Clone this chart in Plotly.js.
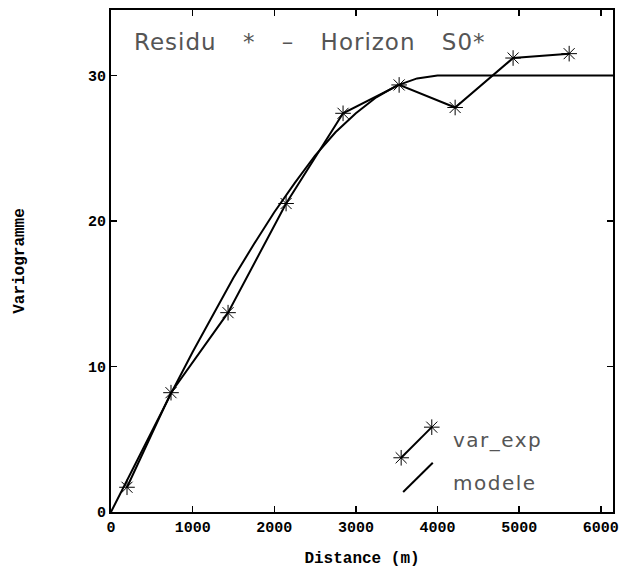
<!DOCTYPE html>
<html>
<head>
<meta charset="utf-8">
<script src="https://cdn.plot.ly/plotly-3.0.1.min.js"></script>
<style>html,body{margin:0;padding:0;background:#fff;}</style>
</head>
<body>
<div id="chart" style="width:619px;height:568px;"></div>
<script>
var expDist = [196, 735, 1434, 2145, 2843, 3530, 4216, 4926, 5613];
var expGamma = [1.7, 8.2, 13.7, 21.2, 27.4, 29.35, 27.8, 31.2, 31.5];

// Fitted model curve
var modelDist = [0, 250, 500, 750, 1000, 1250, 1500, 1750, 2000, 2250, 2500, 2750, 3000, 3250, 3500, 3750, 4000, 6150];
var modelGamma = [0, 2.8, 5.6, 8.3, 11.0, 13.6, 16.1, 18.4, 20.6, 22.6, 24.5, 26.1, 27.4, 28.5, 29.3, 29.8, 30, 30];

var xTicks = [0, 1000, 2000, 3000, 4000, 5000, 6000];
var yTicks = [0, 10, 20, 30];

var titleText = "Residu * \u2013 Horizon S0*";
var legendLabels = ["var_exp", "modele"];
var xTitle = "Distance (m)";
var yTitle = "Variogramme";

// legend sample positions in the overlay [0,1] space
var legExpX = [0.578, 0.639], legExpY = [0.108, 0.169];
var legModX = [0.582, 0.641], legModY = [0.040, 0.098];

var tickFont = {family: "Liberation Mono", size: 15, color: "#000", weight: "bold"};
var titleFont = {family: "Liberation Mono", size: 16, color: "#000", weight: "bold"};
var thinFont = function (s) { return {family: "DejaVu Sans", size: s, color: "#555"}; };

var traces = [
  {x: modelDist, y: modelGamma, mode: "lines", line: {color: "#000", width: 2}, hoverinfo: "skip"},
  {x: expDist, y: expGamma, mode: "lines+markers", line: {color: "#000", width: 2},
   marker: {symbol: "asterisk-open", size: 13, color: "#000", line: {color: "#000", width: 1}}},
  {x: legExpX, y: legExpY, xaxis: "x2", yaxis: "y2", mode: "lines+markers", line: {color: "#000", width: 2},
   marker: {symbol: "asterisk-open", size: 13, color: "#000", line: {color: "#000", width: 1}}},
  {x: legModX, y: legModY, xaxis: "x2", yaxis: "y2", mode: "lines", line: {color: "#000", width: 2}}
];

var layout = {
  width: 619, height: 568,
  margin: {l: 111, r: 6, t: 10, b: 56},
  paper_bgcolor: "#fff", plot_bgcolor: "#fff",
  showlegend: false,
  xaxis: {
    range: [0, 6150], tickvals: xTicks, ticktext: xTicks.map(String),
    ticks: "inside", ticklen: 6, tickwidth: 1.5, tickcolor: "#000",
    showline: true, linewidth: 2, linecolor: "#000", mirror: "ticks",
    showgrid: false, zeroline: false, tickfont: tickFont,
    title: {text: xTitle, font: titleFont, standoff: 17}
  },
  yaxis: {
    range: [0, 34.5], tickvals: yTicks, ticktext: yTicks.map(String),
    ticks: "inside", ticklen: 6, tickwidth: 1.5, tickcolor: "#000",
    showline: true, linewidth: 2, linecolor: "#000", mirror: "ticks",
    showgrid: false, zeroline: false, tickfont: tickFont,
    title: {text: yTitle, font: titleFont, standoff: 59}
  },
  xaxis2: {range: [0, 1], overlaying: "x", visible: false, fixedrange: true},
  yaxis2: {range: [0, 1], overlaying: "y", visible: false, fixedrange: true},
  annotations: [
    {xref: "paper", yref: "paper", x: 0.042, y: 0.936, xanchor: "left", yanchor: "middle",
     text: '<span style="letter-spacing:1px;word-spacing:18px">' + titleText + '</span>',
     showarrow: false, font: thinFont(23)},
    {xref: "paper", yref: "paper", x: 0.677, y: 0.143, xanchor: "left", yanchor: "middle",
     text: '<span style="letter-spacing:1.5px">' + legendLabels[0] + '</span>', showarrow: false, font: thinFont(20)},
    {xref: "paper", yref: "paper", x: 0.677, y: 0.058, xanchor: "left", yanchor: "middle",
     text: '<span style="letter-spacing:1.5px">' + legendLabels[1] + '</span>', showarrow: false, font: thinFont(20)}
  ]
};

Plotly.newPlot("chart", traces, layout, {displayModeBar: false, staticPlot: true});
</script>
</body>
</html>
